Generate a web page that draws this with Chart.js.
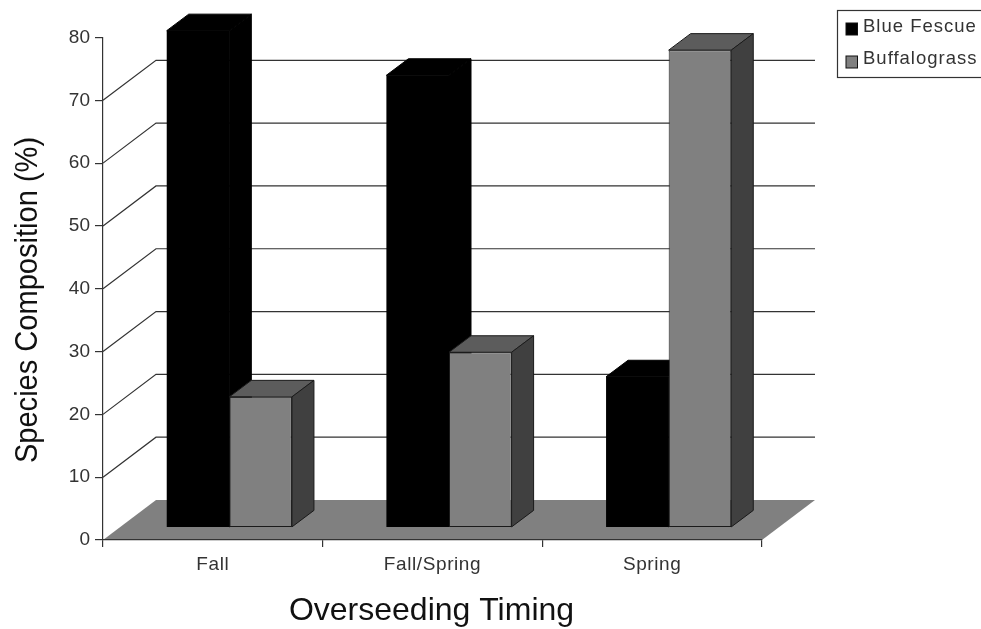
<!DOCTYPE html>
<html>
<head>
<meta charset="utf-8">
<style>
  html, body { margin: 0; padding: 0; background: #fff; overflow: hidden; }
  #wrap { width: 981px; height: 629px; }
</style>
<script src="https://cdn.jsdelivr.net/npm/chart.js@4/dist/chart.umd.min.js"></script>
</head>
<body>
<div id="wrap"><canvas id="myChart" width="981" height="629"></canvas></div>
<script>
// data
const categories = ["Fall", "Fall/Spring", "Spring"];
const blueFescue = [79.1, 72, 24];
const buffalograss = [20.8, 27.9, 76];
const seriesNames = ["Blue Fescue", "Buffalograss"];
const xTitle = "Overseeding Timing";
const yTitle = "Species Composition (%)";
const wallTopValue = 70; // the back wall stops at this gridline

// colors
const lineColor = "#333333";
const textColor = "#333333";
const black = "#000000";
const gray = "#808080";
const topGray = "#5c5c5c";
const sideGray = "#404040";
const fontFamily = "'Liberation Sans', Arial, sans-serif";

// fake 3d offsets
const wall = { dx: 53, dy: 40 };
const barShift = { dx: 16.5, dy: 12.5 };
const barDepth = { dx: 22, dy: 16.5 };

function face(ctx, pts, fill) {
  ctx.beginPath();
  pts.forEach((p, i) => (i ? ctx.lineTo(p[0], p[1]) : ctx.moveTo(p[0], p[1])));
  ctx.closePath();
  ctx.fillStyle = fill;
  ctx.fill();
  ctx.lineWidth = 1;
  ctx.strokeStyle = fill === black ? black : "#1a1a1a";
  ctx.stroke();
}

// top and right faces of every bar in a dataset
function drawFaces(chart, index) {
  const { ctx } = chart;
  const ds = chart.data.datasets[index];
  chart.getDatasetMeta(index).data.forEach((bar) => {
    const { x, y, base, width } = bar.getProps(["x", "y", "base", "width"], true);
    const l = x - width / 2;
    const r = x + width / 2;
    const d = barDepth;
    face(ctx, [[l, y], [l + d.dx, y - d.dy], [r + d.dx, y - d.dy], [r, y]], ds.topColor);
    face(ctx, [[r, y], [r + d.dx, y - d.dy], [r + d.dx, base - d.dy], [r, base]], ds.sideColor);
  });
}

const fake3d = {
  id: "fake3d",
  beforeDraw(chart) {
    const { ctx, chartArea: a, scales } = chart;
    ctx.letterSpacing = "0px";
    // floor
    ctx.beginPath();
    ctx.moveTo(a.left, a.bottom);
    ctx.lineTo(a.left + wall.dx, a.bottom - wall.dy);
    ctx.lineTo(a.right + wall.dx, a.bottom - wall.dy);
    ctx.lineTo(a.right, a.bottom);
    ctx.closePath();
    ctx.fillStyle = gray;
    ctx.fill();
    // back wall gridlines
    ctx.strokeStyle = lineColor;
    ctx.lineWidth = 1.2;
    scales.y.ticks.forEach((t) => {
      if (t.value === 0 || t.value > wallTopValue) return;
      const y = scales.y.getPixelForValue(t.value);
      ctx.beginPath();
      ctx.moveTo(a.left, y);
      ctx.lineTo(a.left + wall.dx, y - wall.dy);
      ctx.lineTo(a.right + wall.dx, y - wall.dy);
      ctx.stroke();
    });
  },
  beforeDatasetDraw(chart, args) {
    // chart.js paints the last dataset first, the gray bars have to end up on top
    if (args.index === 1) return false;
    chart.ctx.save();
    chart.ctx.translate(barShift.dx, -barShift.dy);
  },
  afterDatasetDraw(chart, args) {
    drawFaces(chart, args.index);
    chart.ctx.restore();
  },
  afterDatasetsDraw(chart) {
    const { ctx } = chart;
    ctx.save();
    ctx.translate(barShift.dx, -barShift.dy);
    chart.getDatasetMeta(1).controller.draw();
    drawFaces(chart, 1);
    ctx.restore();
    // x labels have z: 1 so they come after this, they are spaced out in the original
    ctx.letterSpacing = "0.6px";
  },
  afterDraw(chart) {
    const { ctx } = chart;
    ctx.letterSpacing = "0px";
    // axis titles
    ctx.fillStyle = "#111";
    ctx.font = "32px " + fontFamily;
    ctx.textBaseline = "alphabetic";
    ctx.textAlign = "center";
    ctx.fillText(xTitle, 431.5, 620);
    ctx.save();
    ctx.translate(36.5, 300);
    ctx.rotate(-Math.PI / 2);
    ctx.scale(0.908, 1); // the y title is squeezed along its length in the original
    ctx.fillText(yTitle, 0, 0);
    ctx.restore();
    // legend box runs off the right edge
    ctx.strokeStyle = lineColor;
    ctx.lineWidth = 1.2;
    ctx.strokeRect(837.5, 10.5, 160, 67);
    ctx.font = "18.5px " + fontFamily;
    ctx.textBaseline = "middle";
    ctx.textAlign = "left";
    ctx.letterSpacing = "1px";
    chart.data.datasets.forEach((ds, i) => {
      const y = 29 + i * 33;
      ctx.fillStyle = ds.backgroundColor;
      ctx.fillRect(846, y - 6, 11.5, 12);
      ctx.strokeStyle = "#111";
      ctx.lineWidth = 1;
      ctx.strokeRect(846, y - 6, 11.5, 12);
      ctx.fillStyle = textColor;
      ctx.fillText(ds.label, 863, y - 2 - i);
    });
    ctx.letterSpacing = "0px";
  },
};

new Chart(document.getElementById("myChart"), {
  type: "bar",
  data: {
    labels: categories,
    datasets: [
      {
        label: seriesNames[0],
        data: blueFescue,
        backgroundColor: black,
        borderWidth: 0, // a border here leaves a light seam on black
        topColor: black,
        sideColor: black,
      },
      {
        label: seriesNames[1],
        data: buffalograss,
        backgroundColor: gray,
        borderColor: "#1a1a1a",
        borderWidth: 1,
        borderSkipped: false,
        topColor: topGray,
        sideColor: sideGray,
      },
    ],
  },
  plugins: [fake3d],
  options: {
    responsive: false,
    animation: false,
    layout: { padding: { left: 0, top: 37.5, right: 219, bottom: 0 } },
    datasets: {
      bar: { categoryPercentage: 0.57, barPercentage: 1, clip: false },
    },
    plugins: { legend: { display: false }, tooltip: { enabled: false } },
    scales: {
      x: {
        afterFit: (scale) => { scale.height = 89; }, // keep the axis where it is in the original
        grid: { drawOnChartArea: false, color: lineColor, tickLength: 7, lineWidth: 1.2 },
        border: { color: lineColor, width: 1.2 },
        ticks: {
          z: 1,
          color: textColor,
          padding: 6,
          maxRotation: 0,
          font: { family: fontFamily, size: 19 },
        },
      },
      y: {
        min: 0,
        max: 80,
        afterFit: (scale) => { scale.width = 103; },
        grid: { drawOnChartArea: false, color: lineColor, tickLength: 8, lineWidth: 1.2 },
        border: { color: lineColor, width: 1.2 },
        ticks: {
          stepSize: 10,
          color: textColor,
          padding: 5,
          font: { family: fontFamily, size: 19 },
        },
      },
    },
  },
});
</script>
</body>
</html>
